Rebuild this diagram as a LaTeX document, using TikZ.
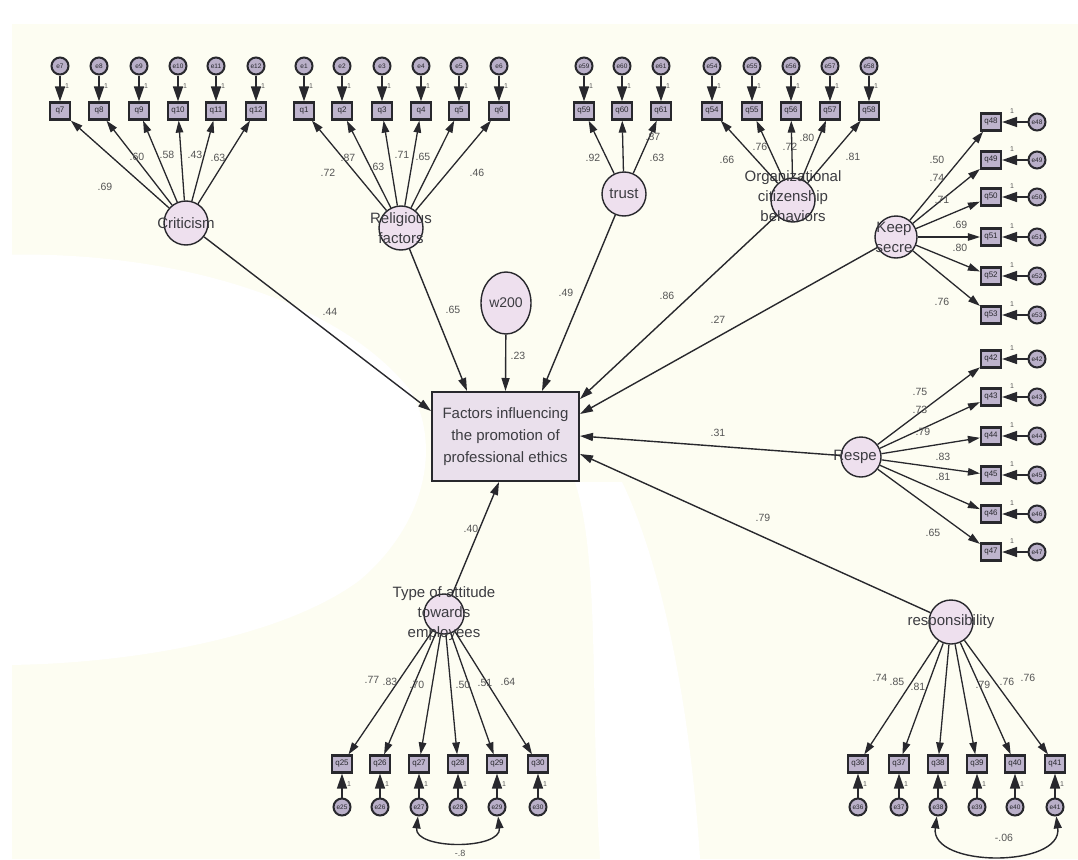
\documentclass[tikz,border=0pt]{standalone}
\usepackage{fontspec}
\setmainfont{Liberation Sans}
\usetikzlibrary{arrows.meta,shapes.geometric}
\definecolor{paper}{RGB}{253,253,242}
\definecolor{latfill}{RGB}{238,224,238}
\definecolor{mainfill}{RGB}{234,224,236}
\definecolor{boxfill}{RGB}{190,180,205}
\definecolor{errfill}{RGB}{185,175,200}
\definecolor{lc}{RGB}{40,40,45}
\definecolor{tc}{RGB}{60,60,65}
\definecolor{lblc}{RGB}{85,85,85}
\begin{document}
\begin{tikzpicture}[x=1pt,y=-1pt,
 lat/.style={circle,draw=lc,line width=1.4pt,fill=latfill,minimum size=44pt,inner sep=0pt},
 lattext/.style={font=\fontsize{15}{20}\selectfont,text=tc,align=center,inner sep=0pt},
 obs/.style={rectangle,draw=lc,line width=2.2pt,fill=boxfill,minimum width=20pt,minimum height=17pt,inner sep=0pt,font=\fontsize{8}{8}\selectfont,text=lc},
 err/.style={circle,draw=lc,line width=2pt,fill=errfill,minimum size=17pt,inner sep=0pt,font=\fontsize{6.5}{6.5}\selectfont,text=lc},
 ar/.style={draw=lc,line width=1.3pt,-{Triangle[length=12pt,width=7.5pt]}},
 sar/.style={draw=lc,line width=1.4pt,-{Triangle[length=13pt,width=8pt]}},
 earr/.style={draw=lc,line width=1.6pt,-{Triangle[length=15pt,width=10pt]}},
 cov/.style={draw=lc,line width=1.4pt,{Triangle[length=12pt,width=8pt]}-{Triangle[length=12pt,width=8pt]}},
 ld/.style={font=\fontsize{10.5}{10.5}\selectfont,text=lblc,inner sep=0pt},
 one/.style={font=\fontsize{7}{7}\selectfont,text=lblc,inner sep=0pt},
 mainbox/.style={rectangle,draw=lc,line width=2pt,fill=mainfill,minimum width=147pt,minimum height=89pt,align=center,font=\fontsize{15}{22}\selectfont,text=tc},
 wnode/.style={ellipse,draw=lc,line width=1.4pt,fill=latfill,minimum width=50pt,minimum height=62pt,inner sep=0pt,font=\fontsize{14}{14}\selectfont,text=tc}
]
\useasboundingbox (0,0) rectangle (1078,859);
% paper and blotches
\fill[paper] (0,0) rectangle (1078,859);
\fill[white] (0,0) rectangle (1078,24);
\fill[white] (0,0) rectangle (12,859);
\fill[white] (0,255) .. controls (150,250) and (330,290) .. (410,390) .. controls (440,440) and (430,520) .. (360,580) .. controls (280,640) and (120,665) .. (0,665) -- cycle;
\fill[white] (575,482) .. controls (600,560) and (590,700) .. (600,859) -- (700,859) .. controls (690,700) and (660,560) .. (622,482) -- cycle;

% latent variables
\node[lat,label={[lattext]center:Criticism}] (C) at (186,223) {};
\node[lat,label={[lattext]center:Religious\\factors}] (R) at (401,228) {};
\node[lat,label={[lattext]center:trust}] (T) at (624,194) {};
\node[lat,label={[lattext,yshift=4pt]center:Organizational\\citizenship\\behaviors}] (O) at (793,200) {};
\node[lat,minimum size=42pt,label={[lattext,xshift=-2pt]center:Keep\\secre}] (K) at (896,237) {};
\node[lat,minimum size=40pt,label={[lattext,xshift=-6pt]center:Respe}] (Rs) at (861,457) {};
\node[lat,label={[lattext]center:responsibility}] (Rb) at (951,622) {};
\node[lat,minimum size=40pt,label={[lattext]center:Type of attitude\\towards\\employees}] (Ty) at (444,614) {};

% main box and w200
\node[mainbox] (M) at (505.5,436.5) {Factors influencing\\the promotion of\\professional ethics};
\node[wnode] (W) at (506,303) {w200};

% Criticism indicators
\foreach \n/\x in {7/60,8/99,9/139,10/178,11/216,12/256}{
  \node[err] (e\n) at (\x,66) {e\n};
  \node[obs] (q\n) at (\x,111) {q\n};
  \draw[earr] (e\n) -- (q\n);
  \node[one] at (\x+7,86) {1};
  \draw[ar] (C) -- (q\n);
}
% Religious factors indicators
\foreach \n/\x in {1/304,2/342,3/382,4/421,5/459,6/499}{
  \node[err] (e\n) at (\x,66) {e\n};
  \node[obs] (q\n) at (\x,111) {q\n};
  \draw[earr] (e\n) -- (q\n);
  \node[one] at (\x+7,86) {1};
  \draw[ar] (R) -- (q\n);
}
% trust indicators
\foreach \n/\x in {59/584,60/622,61/661}{
  \node[err] (e\n) at (\x,66) {e\n};
  \node[obs] (q\n) at (\x,111) {q\n};
  \draw[earr] (e\n) -- (q\n);
  \node[one] at (\x+7,86) {1};
  \draw[ar] (T) -- (q\n);
}
% OCB indicators
\foreach \n/\x in {54/712,55/752,56/791,57/830,58/869}{
  \node[err] (e\n) at (\x,66) {e\n};
  \node[obs] (q\n) at (\x,111) {q\n};
  \draw[earr] (e\n) -- (q\n);
  \node[one] at (\x+7,86) {1};
  \draw[ar] (O) -- (q\n);
}
% Keep secrets indicators
\foreach \n/\y in {48/122,49/160,50/197,51/237,52/276,53/315}{
  \node[err] (e\n) at (1037,\y) {e\n};
  \node[obs] (q\n) at (991,\y) {q\n};
  \draw[earr] (e\n) -- (q\n);
  \node[one] at (1012,\y-11) {1};
  \draw[ar] (K) -- (q\n);
}
% Respect indicators
\foreach \n/\y in {42/359,43/397,44/436,45/475,46/514,47/552}{
  \node[err] (e\n) at (1037,\y) {e\n};
  \node[obs] (q\n) at (991,\y) {q\n};
  \draw[earr] (e\n) -- (q\n);
  \node[one] at (1012,\y-11) {1};
  \draw[ar] (Rs) -- (q\n);
}
% Type of attitude indicators
\foreach \n/\x in {25/342,26/380,27/419,28/458,29/497,30/538}{
  \node[obs] (q\n) at (\x,764) {q\n};
  \node[err] (e\n) at (\x,807) {e\n};
  \draw[earr] (e\n) -- (q\n);
  \node[one] at (\x+7,784) {1};
  \draw[ar] (Ty) -- (q\n);
}
% responsibility indicators
\foreach \n/\x in {36/858,37/899,38/938,39/977,40/1015,41/1055}{
  \node[obs] (q\n) at (\x,764) {q\n};
  \node[err] (e\n) at (\x,807) {e\n};
  \draw[earr] (e\n) -- (q\n);
  \node[one] at (\x+7,784) {1};
  \draw[ar] (Rb) -- (q\n);
}
% covariances
\draw[cov] (e27) .. controls (414,850) and (502,850) .. (e29);
\draw[cov] (e38) .. controls (930,868) and (1063,868) .. (e41);

% structural paths
\draw[sar] (C) -- ([yshift=-20pt]M.north west);
\draw[sar] (R) -- ([xshift=36pt]M.north west);
\draw[sar] (W) -- (M.north);
\draw[sar] (T) -- ([xshift=111pt]M.north west);
\draw[sar] (O) -- ([yshift=-8pt]M.north east);
\draw[sar] (K) -- ([yshift=-23pt]M.north east);
\draw[sar] (Rs) -- ([yshift=-45pt]M.north east);
\draw[sar] (Rb) -- ([yshift=-63pt]M.north east);
\draw[sar] (Ty) -- ([xshift=68pt]M.south west);

% loading labels
\foreach \v/\x/\y in {
 .69/105/187,.60/137/157,.58/167/155,.43/195/155,.63/218/158,
 .72/328/173,.87/348/158,.63/377/167,.71/402/155,.65/423/157,.46/477/173,
 .92/593/158,.87/653/137,.63/657/158,
 .66/727/160,.76/760/147,.72/790/147,.80/807/138,.81/853/157,
 .50/937/160,.74/937/178,.71/942/200,.69/960/225,.80/960/248,.76/942/302,
 .75/920/392,.73/920/410,.79/923/432,.83/943/457,.81/943/477,.65/933/533,
 .74/880/678,.85/897/682,.81/918/687,.79/983/685,.76/1007/682,.76/1028/678,
 .77/372/680,.83/390/682,.70/417/685,.50/463/685,.51/485/683,.64/508/682,
 .44/330/312,.65/453/310,.23/518/356,.49/566/293,.86/667/296,.27/718/320,
 .31/718/433,.79/763/518,.40/471/529,-.06/1004/838}{
  \node[ld] at (\x,\y) {\v};
}
\node[ld,font=\fontsize{9}{9}\selectfont] at (460,853) {-.8};
\end{tikzpicture}
\end{document}
